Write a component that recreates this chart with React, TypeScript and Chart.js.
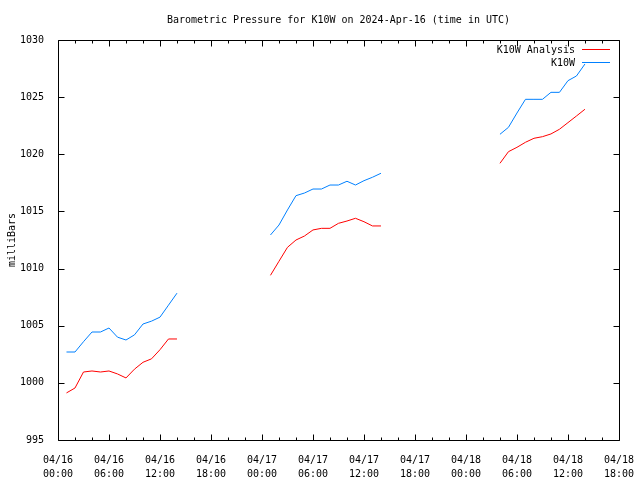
import React, { useEffect, useRef } from "react";
import { Chart, registerables } from "chart.js";

Chart.register(...registerables);

// Hours since 2024-04-16 00:00 UTC (null values break the lines)
const hours = [
  1, 2, 3, 4, 5, 6, 7, 8, 9, 10, 11, 12, 13, 14,
  20,
  25, 26, 27, 28, 29, 30, 31, 32, 33, 34, 35, 36, 37, 38,
  45,
  52, 53, 54, 55, 56, 57, 58, 59, 60, 61, 62,
];

const analysisValues: (number | null)[] = [
  999.12, 999.55, 1000.95, 1001.04, 1000.95, 1001.04, 1000.78, 1000.43, 1001.2, 1001.8, 1002.1, 1002.9, 1003.84, 1003.84,
  null,
  1009.41, 1010.64, 1011.86, 1012.5, 1012.85, 1013.38, 1013.52, 1013.52, 1013.96, 1014.16, 1014.4, 1014.1, 1013.73, 1013.73,
  null,
  1019.21, 1020.23, 1020.61, 1021.05, 1021.4, 1021.54, 1021.78, 1022.19, 1022.77, 1023.35, 1023.94,
];

const k10wValues: (number | null)[] = [
  1002.7, 1002.7, 1003.6, 1004.45, 1004.45, 1004.8, 1004.0, 1003.75, 1004.2, 1005.15, 1005.4, 1005.75, 1006.8, 1007.85,
  null,
  1012.94, 1013.81, 1015.13, 1016.38, 1016.61, 1016.96, 1016.96, 1017.31, 1017.31, 1017.64, 1017.31, 1017.69, 1017.99, 1018.34,
  null,
  1021.75, 1022.36, 1023.61, 1024.81, 1024.81, 1024.81, 1025.42, 1025.42, 1026.44, 1026.85, 1027.9,
];

const seriesNames = ["K10W Analysis", "K10W"];
const seriesColors = ["#ff0000", "#0080ff"];
const dayLabels = ["04/16", "04/17", "04/18"];
const hourLabels = ["00:00", "06:00", "12:00", "18:00"];
const titleText = "Barometric Pressure for K10W on 2024-Apr-16 (time in UTC)";
const yTitle = "milliBars";

const X_MIN = 0;
const X_MAX = 66;
const Y_MIN = 995;
const Y_MAX = 1030;
const FONT = "DejaVu Sans Mono";

export default function App() {
  const ref = useRef<HTMLCanvasElement | null>(null);

  useEffect(() => {
    if (!ref.current) return;
    const mk = (vals: (number | null)[]) =>
      hours.map((h, i) => ({ x: h, y: vals[i] }));

    const decor = {
      id: "gnuplotDecor",
      afterDraw(chart: any) {
        const ctx = chart.ctx;
        const a = chart.chartArea;
        const xs = chart.scales.x;
        const ys = chart.scales.y;
        ctx.save();
        ctx.strokeStyle = "#000";
        ctx.lineWidth = 1;
        const L = Math.round(a.left) + 0.5;
        const R = Math.round(a.right) + 0.5;
        const T = Math.round(a.top) + 0.5;
        const B = Math.round(a.bottom) + 0.5;
        ctx.beginPath();
        ctx.rect(L, T, R - L, B - T);
        // x ticks (major every 6h, minor every 2h), bottom and top
        for (let h = X_MIN; h <= X_MAX; h += 2) {
          const px = Math.round(xs.getPixelForValue(h)) + 0.5;
          const len = h % 6 === 0 ? 6 : 3;
          ctx.moveTo(px, B);
          ctx.lineTo(px, B - len);
          ctx.moveTo(px, T);
          ctx.lineTo(px, T + len);
        }
        for (let v = Y_MIN; v <= Y_MAX; v += 5) {
          const py = Math.round(ys.getPixelForValue(v)) + 0.5;
          ctx.moveTo(L, py);
          ctx.lineTo(L + 6, py);
          ctx.moveTo(R, py);
          ctx.lineTo(R - 6, py);
        }
        ctx.stroke();

        ctx.fillStyle = "#000";
        ctx.font = `10px "${FONT}"`;
        ctx.textBaseline = "middle";
        ctx.textAlign = "center";
        ctx.fillText(titleText, (a.left + a.right) / 2, 20);

        ctx.save();
        ctx.translate(12, (a.top + a.bottom) / 2);
        ctx.rotate(-Math.PI / 2);
        ctx.fillText(yTitle, 0, 0);
        ctx.restore();

        // legend (top-right, text right-aligned, sample to the right)
        ctx.textAlign = "right";
        seriesNames.forEach((name, i) => {
          const y = 50 + i * 13;
          ctx.fillStyle = "#000";
          ctx.fillText(name, 575, y);
          ctx.strokeStyle = seriesColors[i];
          ctx.beginPath();
          ctx.moveTo(582, Math.round(y - 1) + 0.5);
          ctx.lineTo(610, Math.round(y - 1) + 0.5);
          ctx.stroke();
        });
        ctx.restore();
      },
    };

    const chart = new Chart(ref.current, {
      type: "line",
      data: {
        datasets: [
          {
            label: seriesNames[0],
            data: mk(analysisValues),
            borderColor: seriesColors[0],
            borderWidth: 1,
            pointRadius: 0,
            spanGaps: false,
            tension: 0,
          },
          {
            label: seriesNames[1],
            data: mk(k10wValues),
            borderColor: seriesColors[1],
            borderWidth: 1,
            pointRadius: 0,
            spanGaps: false,
            tension: 0,
          },
        ],
      },
      options: {
        responsive: false,
        animation: false,
        layout: { padding: { top: 40, right: 18, left: 0, bottom: 0 } },
        plugins: {
          legend: { display: false },
          title: { display: false },
          tooltip: { enabled: false },
        },
        scales: {
          x: {
            type: "linear",
            min: X_MIN,
            max: X_MAX,
            grid: { display: false },
            border: { display: false },
            afterFit: (s: any) => {
              s.height = 40;
            },
            ticks: {
              stepSize: 6,
              autoSkip: false,
              maxRotation: 0,
              minRotation: 0,
              padding: 6,
              color: "#000",
              font: { family: FONT, size: 10, lineHeight: 1.35 },
              callback: (v: any) => {
                const n = Number(v);
                const d = Math.floor(n / 24);
                const hh = (n % 24) / 6;
                return [dayLabels[d] ?? "", hourLabels[hh] ?? ""];
              },
            },
          },
          y: {
            type: "linear",
            min: Y_MIN,
            max: Y_MAX,
            grid: { display: false },
            border: { display: false },
            afterFit: (s: any) => {
              s.width = 58;
            },
            ticks: {
              stepSize: 5,
              padding: 6,
              color: "#000",
              font: { family: FONT, size: 10 },
              callback: (v: any) => String(v),
            },
          },
        },
      },
      plugins: [decor],
    });
    return () => chart.destroy();
  }, []);

  return (
    <div style={{ position: "absolute", left: 0, top: 0, width: 640, height: 480, background: "#fff" }}>
      <canvas ref={ref} width={640} height={480} />
    </div>
  );
}
